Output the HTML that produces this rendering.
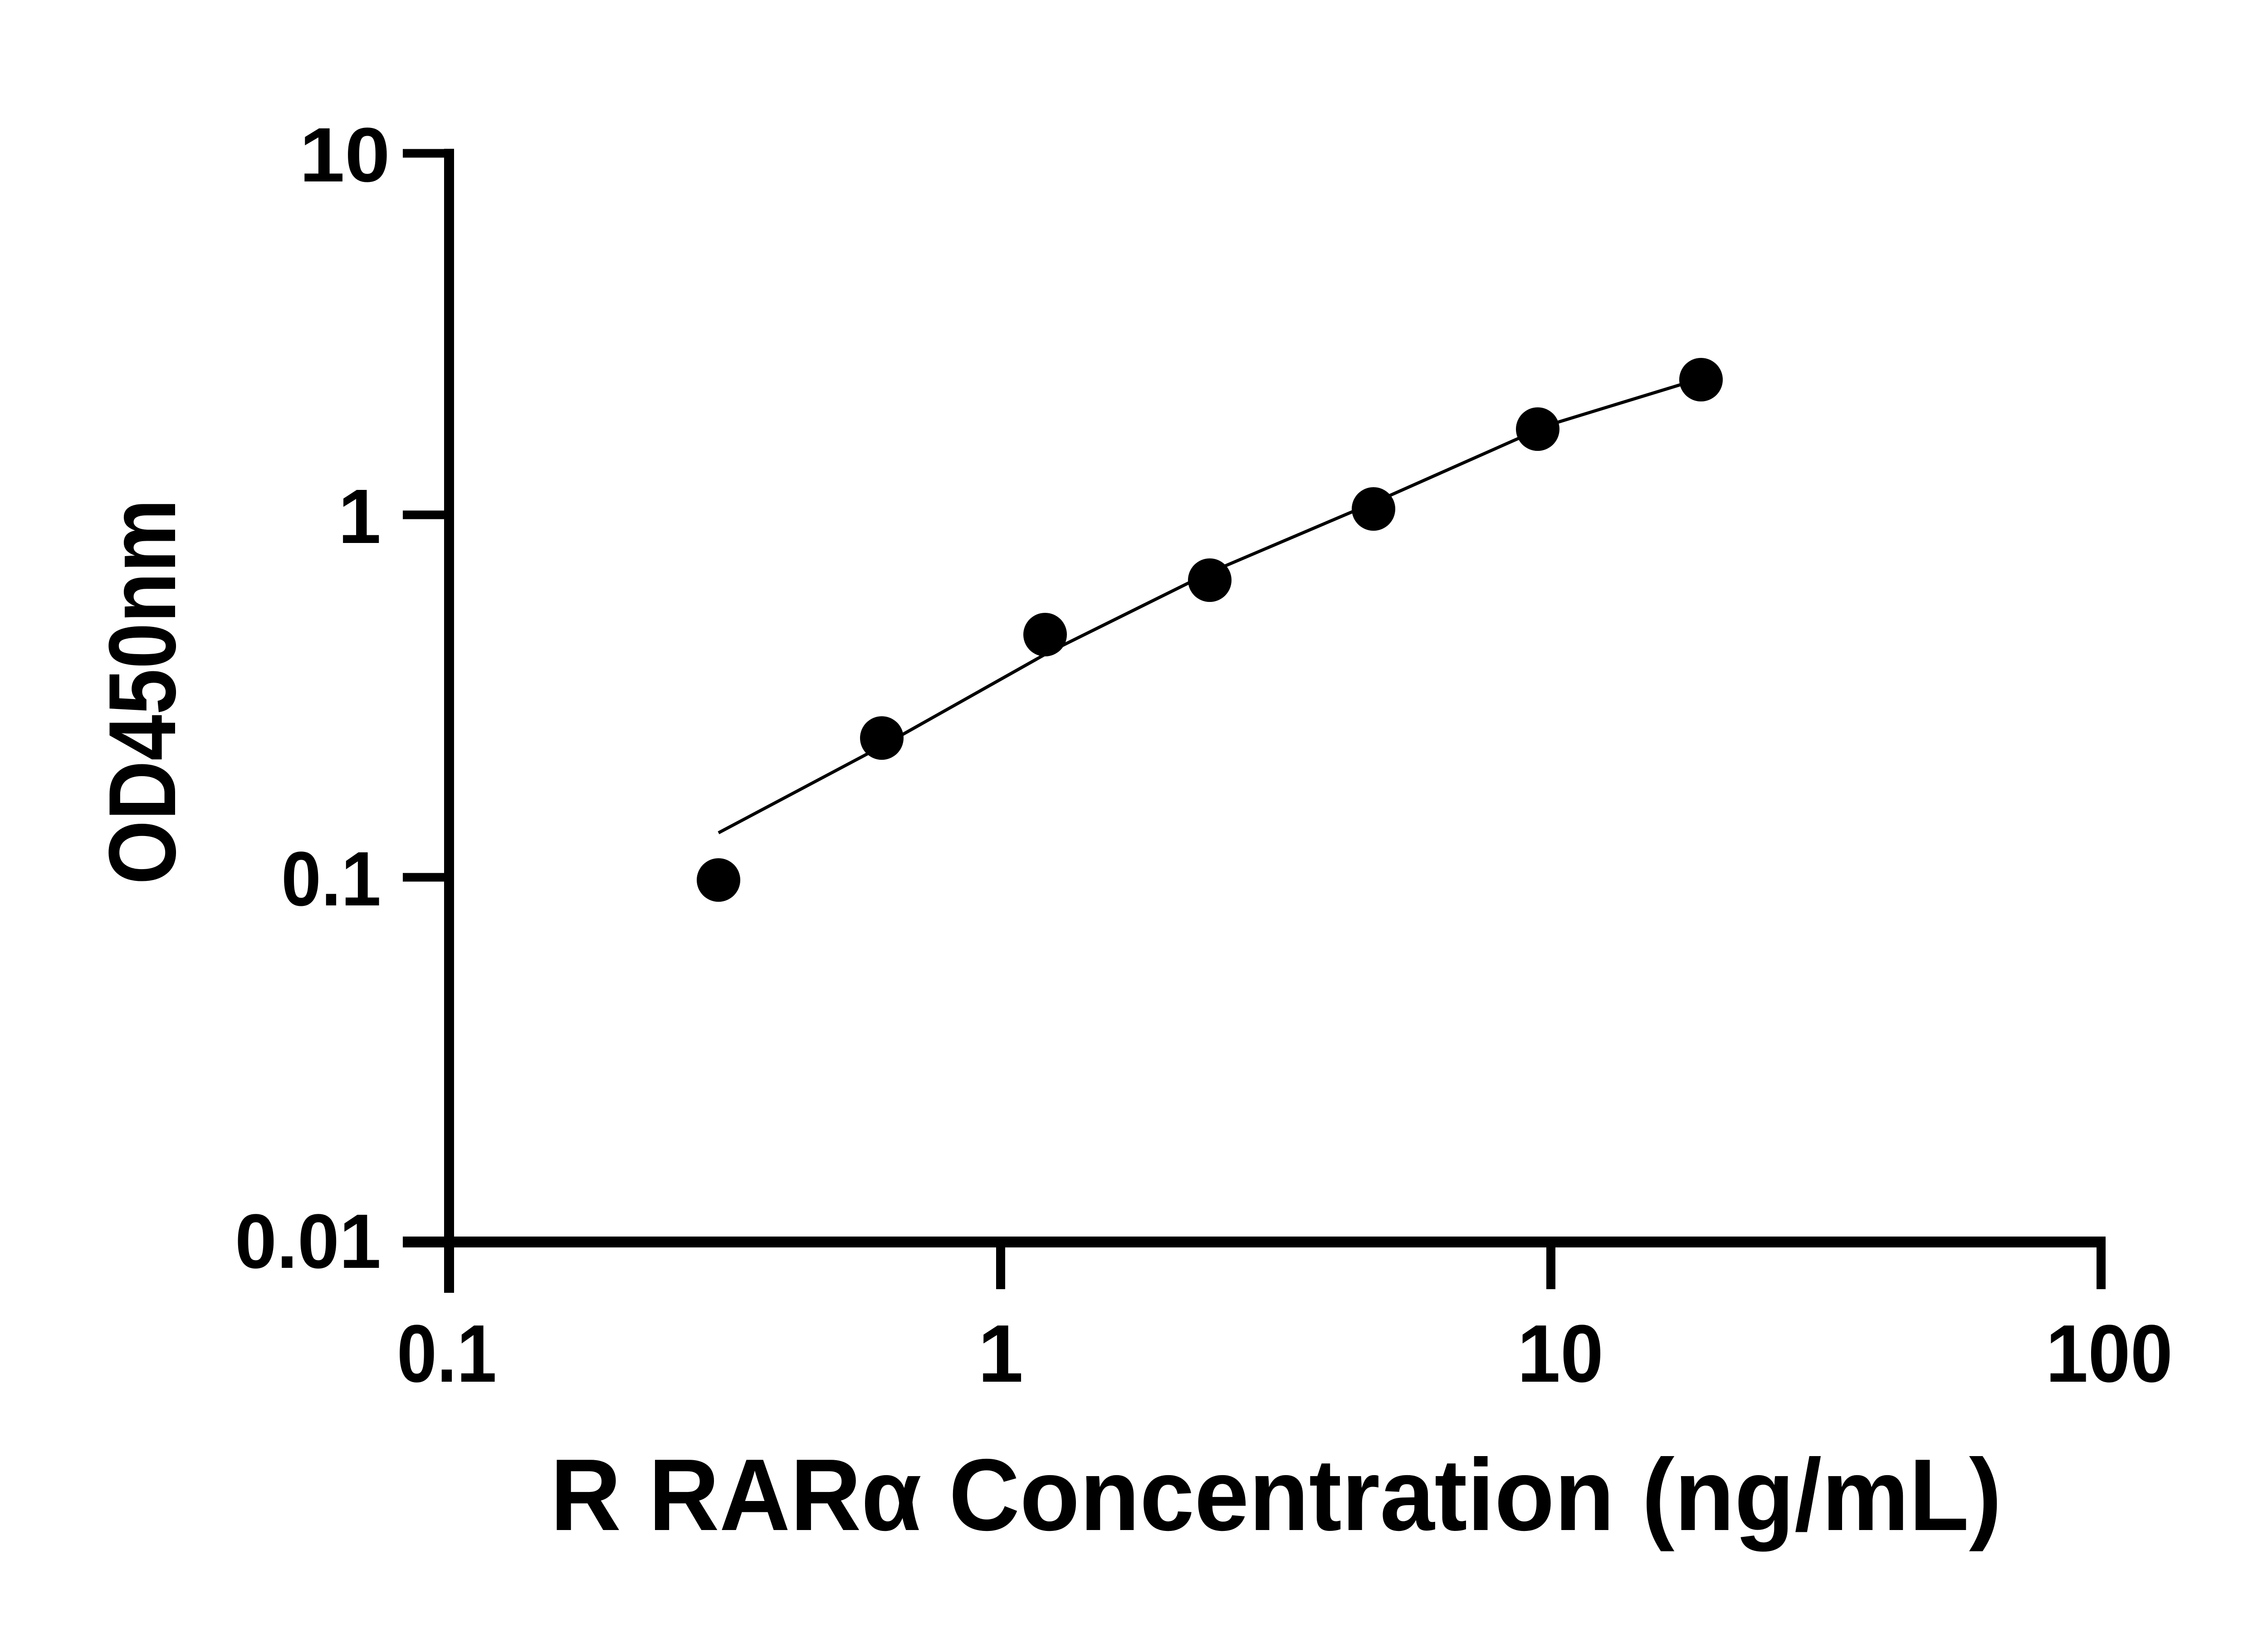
<!DOCTYPE html>
<html><head><meta charset="utf-8"><style>
html,body{margin:0;padding:0;background:#fff;}
svg{display:block}
text{font-family:"Liberation Sans",Arial,sans-serif;font-weight:bold;fill:#000}
</style></head><body>
<svg width="5142" height="3600" viewBox="0 0 5142 3600" xmlns="http://www.w3.org/2000/svg">
<!-- axes -->
<line x1="990" y1="328" x2="990" y2="2850" stroke="#000" stroke-width="22"/>
<line x1="888" y1="2738" x2="4642" y2="2738" stroke="#000" stroke-width="24"/>
<!-- y ticks -->
<g stroke="#000" stroke-width="19">
<line x1="888" y1="338" x2="1000" y2="338"/>
<line x1="888" y1="1135" x2="1000" y2="1135"/>
<line x1="888" y1="1934" x2="1000" y2="1934"/>
</g>
<!-- x ticks -->
<g stroke="#000" stroke-width="20">
<line x1="2206" y1="2730" x2="2206" y2="2842"/>
<line x1="3419" y1="2730" x2="3419" y2="2842"/>
<line x1="4632" y1="2730" x2="4632" y2="2842"/>
</g>
<!-- y tick labels -->
<g font-size="170" text-anchor="end">
<text x="860" y="400" textLength="200" lengthAdjust="spacingAndGlyphs">10</text>
<text x="840" y="1197">1</text>
<text x="840" y="1996" textLength="220" lengthAdjust="spacingAndGlyphs">0.1</text>
<text x="840" y="2795" textLength="322" lengthAdjust="spacingAndGlyphs">0.01</text>
</g>
<!-- x tick labels -->
<g font-size="180" text-anchor="middle">
<text x="985" y="3046" textLength="220" lengthAdjust="spacingAndGlyphs">0.1</text>
<text x="2206" y="3046">1</text>
<text x="3440" y="3046" textLength="190" lengthAdjust="spacingAndGlyphs">10</text>
<text x="4650" y="3046" textLength="280" lengthAdjust="spacingAndGlyphs">100</text>
</g>
<!-- axis titles -->
<text x="2813" y="3373" font-size="225" text-anchor="middle" textLength="3200" lengthAdjust="spacingAndGlyphs">R RARα Concentration (ng/mL)</text>
<text transform="translate(386,1525) rotate(-90)" font-size="210" text-anchor="middle" textLength="850" lengthAdjust="spacingAndGlyphs">OD450nm</text>
<!-- fit curve -->
<polyline fill="none" stroke="#000" stroke-width="7" points="1584,1836 1944,1645 2312,1438 2667,1262 3031,1107 3414,937 3705,848"/>
<!-- points -->
<g fill="#000">
<circle cx="1584" cy="1940" r="48"/>
<circle cx="1944" cy="1627" r="48"/>
<circle cx="2304" cy="1399" r="48"/>
<circle cx="2667" cy="1279" r="48"/>
<circle cx="3028" cy="1122" r="48"/>
<circle cx="3390" cy="946" r="48"/>
<circle cx="3750" cy="837" r="48"/>
</g>
</svg>
</body></html>
